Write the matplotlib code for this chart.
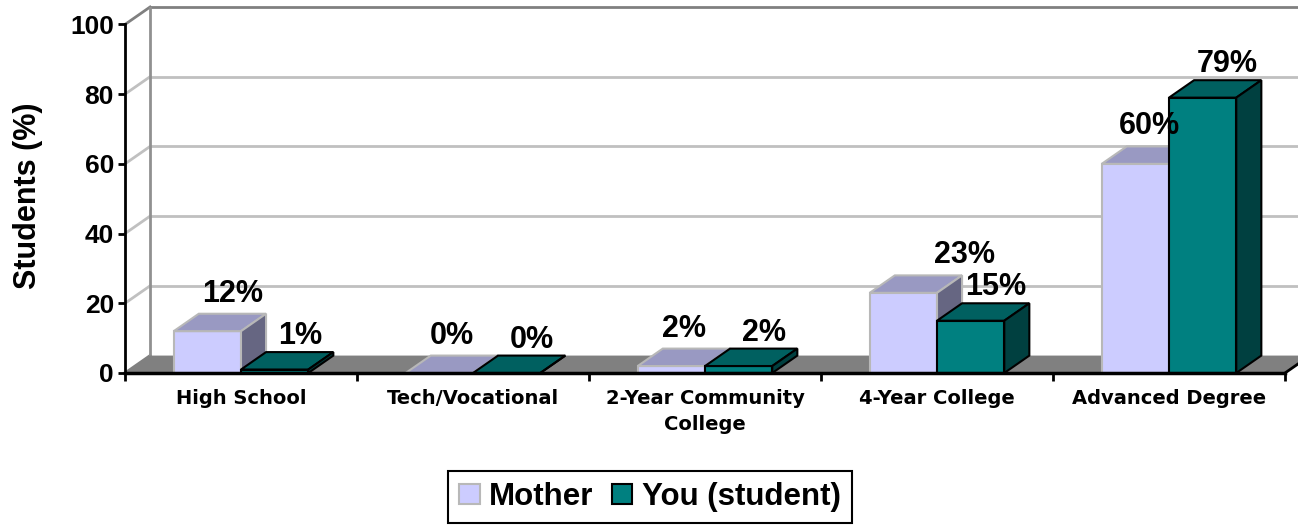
import matplotlib
matplotlib.use("Agg")
import matplotlib.pyplot as plt
from matplotlib.patches import Polygon, Patch

plt.rcParams["font.family"] = ["Liberation Sans", "DejaVu Sans"]
plt.rcParams["font.weight"] = "bold"

# data
categories = ["High School", "Tech/Vocational", "2-Year Community\nCollege",
              "4-Year College", "Advanced Degree"]
mother = [12, 0, 2, 23, 60]
student = [1, 0, 2, 15, 79]
series_names = ["Mother", "You (student)"]
yticks = [0, 20, 40, 60, 80, 100]

# look of the fake 3D box
w = 0.29        # bar width (category units)
dx = 0.108      # depth shift in x
dy = 5.0        # depth shift in y (value units)
xmin, xmax = -0.5, 4.556
# Excel puts some of the mother labels a bit off centre (pixels)
mother_label_nudge = [0, -13, -12, 36, -11]

mother_col = ("#CCCCFF", "#9999C2", "#666682", "#B8B8B8")   # front, top, side, edge
student_col = ("#008080", "#006060", "#004040", "#000000")

fig = plt.figure(figsize=(12.98, 5.26), dpi=100)
ax = fig.add_axes([125 / 1298, 1 - 373 / 526, 1 - 125 / 1298, 366 / 526])
ax.set_xlim(xmin, xmax)
ax.set_ylim(0, 100 + dy)

# back wall grid and side wall diagonals
for v in yticks:
    c = "#808080" if v in (0, 100) else "#C0C0C0"
    if v > 0:
        ax.plot([xmin + dx, xmax], [v + dy, v + dy], color=c, lw=2, zorder=1, clip_on=False)
    ax.plot([xmin, xmin + dx], [v, v + dy], color=c, lw=2, zorder=1, clip_on=False)
ax.plot([xmin + dx, xmin + dx], [dy, 100 + dy], color="#909090", lw=2, zorder=1)

# floor
n = len(categories)
ax.add_patch(Polygon([(-0.5, 0), (n - 0.5, 0), (n - 0.5 + dx, dy), (-0.5 + dx, dy)],
                     closed=True, facecolor="#808080", edgecolor="none", zorder=1.5))
ax.plot([n - 0.5, n - 0.5 + dx], [0, dy], color="black", lw=2, zorder=1.6, clip_on=False)


def bars3d(left, vals, cols, z):
    front, top, side, edge = cols
    lw = 1.5
    ax.bar(left, vals, width=w, align="edge", color=front, edgecolor=edge, lw=lw, zorder=z)
    for l, v in zip(left, vals):
        ax.add_patch(Polygon([(l, v), (l + w, v), (l + w + dx, v + dy), (l + dx, v + dy)],
                             closed=True, facecolor=top, edgecolor=edge, lw=lw, zorder=z))
        ax.add_patch(Polygon([(l + w, 0), (l + w + dx, dy), (l + w + dx, v + dy), (l + w, v)],
                             closed=True, facecolor=side, edgecolor=edge, lw=lw, zorder=z))


xs = list(range(n))
bars3d([x - w for x in xs], mother, mother_col, 3)
bars3d(xs, student, student_col, 4)

# value labels
for x, m, s, nud in zip(xs, mother, student, mother_label_nudge):
    for l, v, off in ((x - w, m, (nud, 12)), (x, s, (0, 8))):
        ax.annotate(f"{v}%", (l + w / 2 + dx, v + dy), xytext=off,
                    textcoords="offset pixels", ha="center", va="baseline",
                    fontsize=22, fontweight="bold", zorder=10)

# axes
for sp in ("top", "right"):
    ax.spines[sp].set_visible(False)
ax.spines["left"].set_bounds(0, 100)
ax.spines["left"].set_linewidth(2)
ax.spines["bottom"].set_bounds(-0.5, n - 0.5)
ax.spines["bottom"].set_linewidth(2.5)
ax.spines["left"].set_zorder(6)
ax.spines["bottom"].set_zorder(6)

ax.set_yticks(yticks)
ax.set_yticklabels([str(t) for t in yticks], fontsize=19, fontweight="bold")
ax.tick_params(axis="y", length=5, width=2, pad=3)

ax.set_xticks([x - 0.5 for x in range(n + 1)])
ax.set_xticklabels([])
ax.tick_params(axis="x", which="major", length=6, width=2)
ax.set_xticks(xs, minor=True)
ax.set_xticklabels(categories, minor=True, fontsize=14, fontweight="bold",
                   family="DejaVu Sans", linespacing=1.45)
ax.tick_params(axis="x", which="minor", length=0, pad=11.5)

fig.text(28 / 1298, 1 - 196 / 526, "Students (%)", rotation=90, ha="center",
         va="center", fontsize=22, fontweight="bold")

handles = [Patch(facecolor=mother_col[0], edgecolor=mother_col[3], lw=1.5),
           Patch(facecolor=student_col[0], edgecolor="black", lw=1.5)]
leg = fig.legend(handles, series_names, loc="center",
                 bbox_to_anchor=(650 / 1298, 1 - 497 / 526), ncol=2,
                 fancybox=False, edgecolor="black", framealpha=1,
                 prop={"size": 22.5, "weight": "bold"},
                 handlelength=0.65, handleheight=0.65, handletextpad=0.3,
                 columnspacing=0.6, borderpad=0.35)
leg.get_frame().set_linewidth(1.5)

fig.savefig("out.png", dpi=100)
